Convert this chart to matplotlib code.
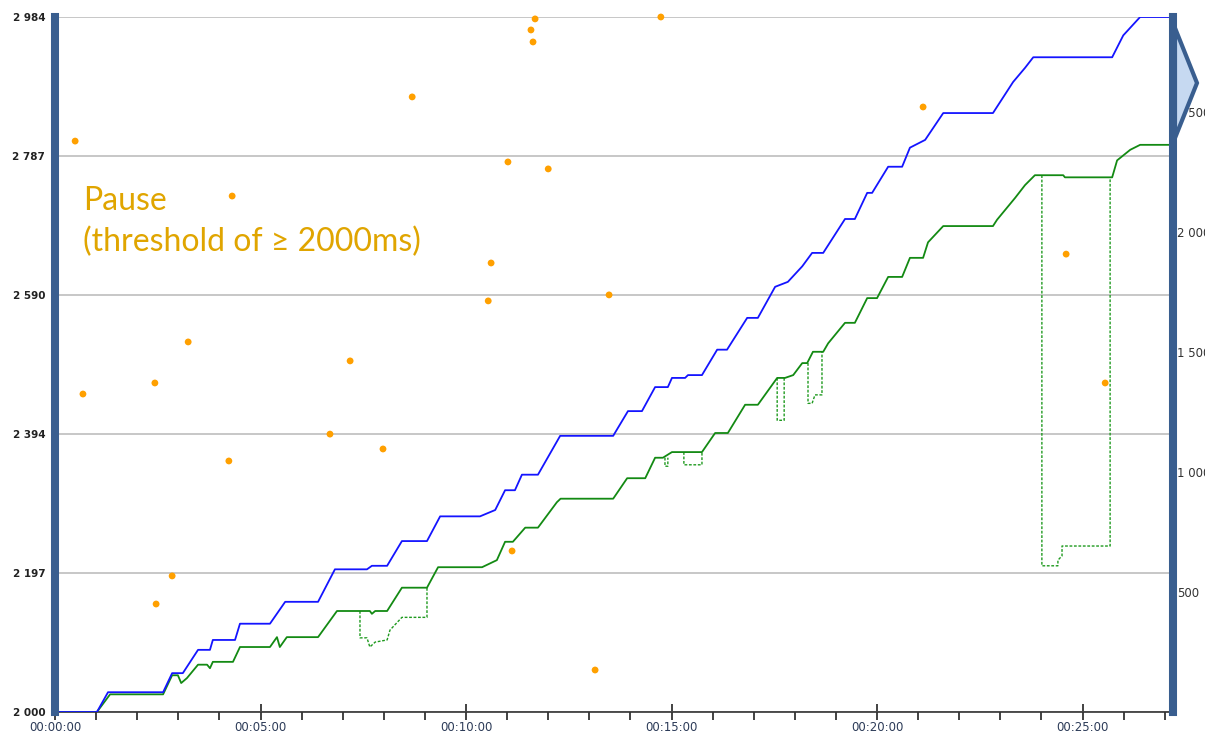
import numpy as np
import matplotlib.pyplot as plt
from matplotlib.ticker import MultipleLocator, FuncFormatter
from matplotlib.patches import Polygon

# elapsed time (minutes) and cumulative count, blue series
blue_t = [0, 1.02, 1.29, 2.63, 2.85, 3.11, 3.48, 3.77, 3.84, 4.38, 4.50, 5.23, 5.60, 6.40,
          6.81, 7.59, 7.71, 8.08, 8.44, 9.05, 9.37, 10.34, 10.71, 10.95, 11.19, 11.36, 11.75,
          12.29, 13.58, 13.94, 14.28, 14.60, 14.91, 15.01, 15.33, 15.40, 15.74, 16.11, 16.35,
          16.84, 17.10, 17.52, 17.83, 18.18, 18.42, 18.69, 19.22, 19.46, 19.76, 19.88, 20.27,
          20.61, 20.80, 21.17, 21.61, 22.82, 23.31, 23.60, 23.80, 25.72, 25.99, 26.40, 27.2]
blue_v = [2000, 2000, 2028, 2028, 2055, 2055, 2088, 2088, 2102, 2102, 2125, 2125, 2156, 2156,
          2202, 2202, 2207, 2207, 2242, 2242, 2277, 2277, 2286, 2314, 2314, 2336, 2336,
          2391, 2391, 2426, 2426, 2460, 2460, 2473, 2473, 2477, 2477, 2513, 2513,
          2558, 2558, 2602, 2609, 2631, 2650, 2650, 2698, 2698, 2735, 2735, 2772,
          2772, 2799, 2810, 2848, 2848, 2892, 2912, 2927, 2927, 2958, 2984, 2984]

# green series
green_t = [0, 1.02, 1.34, 2.63, 2.85, 2.99, 3.07, 3.21, 3.48, 3.70, 3.77, 3.84, 4.33, 4.50,
           5.23, 5.40, 5.47, 5.64, 6.40, 6.86, 7.66, 7.71, 7.79, 8.08, 8.44, 9.05, 9.32,
           10.39, 10.75, 10.95, 11.14, 11.44, 11.75, 12.21, 12.30, 13.58, 13.92, 14.36, 14.60,
           14.79, 15.01, 15.74, 16.06, 16.37, 16.79, 17.10, 17.57, 17.76, 17.96, 18.18, 18.30,
           18.44, 18.69, 18.81, 19.22, 19.46, 19.76, 20.00, 20.27, 20.61, 20.80, 21.12, 21.24,
           21.61, 22.82, 22.92, 23.36, 23.60, 23.84, 24.53, 24.57, 25.72, 25.84, 26.16, 26.40, 27.2]
green_v = [2000, 2000, 2025, 2025, 2052, 2052, 2041, 2048, 2067, 2067, 2062, 2071, 2071, 2092,
           2092, 2106, 2092, 2106, 2106, 2143, 2143, 2139, 2143, 2143, 2176, 2176, 2205,
           2205, 2215, 2241, 2241, 2261, 2261, 2297, 2302, 2302, 2331, 2331, 2360,
           2360, 2368, 2368, 2395, 2395, 2435, 2435, 2473, 2473, 2477, 2494, 2494,
           2510, 2510, 2522, 2551, 2551, 2586, 2586, 2616, 2616, 2643, 2643, 2665,
           2688, 2688, 2697, 2728, 2746, 2760, 2760, 2757, 2757, 2781, 2796, 2803, 2803]

# green path taken through the pauses (nan splits the segments)
gap_t = [7.42, 7.42, 7.59, 7.66, 7.79, 8.08, 8.15, 8.44, 9.05, 9.05, np.nan,
         14.84, 14.84, 14.91, 14.91, np.nan,
         15.30, 15.30, 15.74, 15.74, np.nan,
         17.57, 17.57, 17.74, 17.74, np.nan,
         18.32, 18.32, 18.42, 18.49, 18.66, 18.66, np.nan,
         24.01, 24.01, 24.40, 24.40, 24.50, 24.50, 25.67, 25.67]
gap_v = [2143, 2105, 2105, 2092, 2099, 2102, 2116, 2134, 2134, 2176, np.nan,
         2360, 2348, 2348, 2360, np.nan,
         2368, 2350, 2350, 2368, np.nan,
         2473, 2413, 2413, 2473, np.nan,
         2494, 2437, 2437, 2449, 2449, 2510, np.nan,
         2760, 2207, 2207, 2215, 2221, 2235, 2235, 2757]

# pauses: time (minutes) and duration (ms), right axis
pause_t = [0.49, 0.68, 2.43, 2.85, 2.46, 3.24, 4.23, 4.31, 6.69, 7.18, 7.98, 8.69, 10.61,
           10.54, 11.02, 11.12, 11.58, 11.63, 11.68, 12.00, 13.14, 13.48, 14.74, 21.12,
           24.60, 25.55]
pause_ms = [2379, 1325, 1371, 567, 450, 1542, 1046, 2150, 1158, 1463, 1096, 2563, 1871,
            1713, 2292, 671, 2842, 2792, 2888, 2263, 175, 1738, 2896, 2521,
            1908, 1371]

left_ticks = np.linspace(2000, 2984, 6)
right_ticks = [500, 1000, 1500, 2000, 2500]

W, H = 1205, 743
bar_col = '#395E8F'

fig = plt.figure(figsize=(W / 100, H / 100), dpi=100)
ax = fig.add_axes([55 / W, 1 - 712 / H, (1173 - 55) / W, (712 - 17) / H])

ax.plot(gap_t, gap_v, color='#1f9a1f', lw=1.0, ls=(0, (2, 1.2)), zorder=2)
ax.plot(green_t, green_v, color='#138a13', lw=1.3, zorder=3)
ax.plot(blue_t, blue_v, color='#1414ff', lw=1.3, zorder=4)

ax.set_xlim(0, 27.2)
ax.set_ylim(2000, 2984)

ax.xaxis.set_major_locator(MultipleLocator(5))
ax.xaxis.set_minor_locator(MultipleLocator(1))
ax.xaxis.set_major_formatter(FuncFormatter(lambda m, _: f"00:{int(round(m)):02d}:00"))
ax.tick_params(axis='x', which='major', direction='inout', length=11, width=1.2,
               color='#222222', labelsize=8.5, labelcolor='#2c3b58', pad=1)
ax.tick_params(axis='x', which='minor', direction='out', length=6, width=1.2,
               color='#222222')

ax.set_yticks(left_ticks)
ax.set_yticklabels([f"{int(round(v)):,}".replace(',', ' ') for v in left_ticks])
ax.tick_params(axis='y', length=0, pad=7, labelsize=7.5, labelcolor='#222222')
for lab in ax.get_yticklabels():
    lab.set_fontweight('bold')
ax.grid(axis='y', color='#bdbdbd', lw=1.2)
ax.set_axisbelow(True)

ax.spines['top'].set_visible(False)
ax.spines['bottom'].set_color('#333333')
ax.spines['bottom'].set_linewidth(1.2)
for side in ('left', 'right'):
    ax.spines[side].set_color(bar_col)
    ax.spines[side].set_linewidth(5.8)
    ax.spines[side].set_zorder(6)

ax2 = ax.twinx()
ax2.set_ylim(0, 2896)
ax2.scatter(pause_t, pause_ms, s=24, color='#ffa000', edgecolors='none', clip_on=False, zorder=5)
ax2.set_yticks(right_ticks)
ax2.set_yticklabels([f"{v:,}".replace(',', ' ') for v in right_ticks])
ax2.tick_params(axis='y', length=0, pad=3, labelsize=8.5, labelcolor='#333333')
for s in ax2.spines.values():
    s.set_visible(False)

# arrow marker on the right bar
arrow = Polygon([(1175 / W, 1 - 28 / H), (1197 / W, 1 - 83 / H), (1175 / W, 1 - 138 / H)],
                closed=True, transform=fig.transFigure, facecolor='#c6d9f1',
                edgecolor=bar_col, lw=3)
fig.add_artist(arrow)

note_font = ['Lato', 'DejaVu Sans']
fig.text(83 / W, 1 - 210 / H, "Pause", fontsize=23, color='#e0a500',
         family=note_font, va='baseline')
fig.text(83 / W, 1 - 251 / H, "(threshold of \u2265 2000ms)", fontsize=23, color='#e0a500',
         family=note_font, va='baseline')

fig.savefig('out.png', dpi=100)
